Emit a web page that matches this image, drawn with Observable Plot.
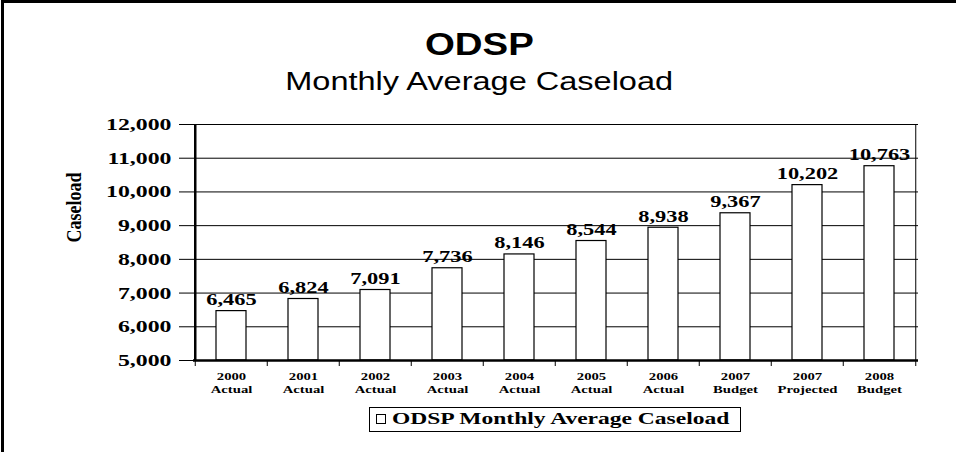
<!DOCTYPE html>
<html>
<head>
<meta charset="utf-8">
<script src="https://cdn.jsdelivr.net/npm/d3@7"></script>
<script src="https://cdn.jsdelivr.net/npm/@observablehq/plot@0.6"></script>
<style>
  html, body { margin: 0; padding: 0; background: #fff; }
  #wrap { position: relative; width: 959px; height: 452px; overflow: hidden; }
  #frame { position: absolute; left: 1px; top: 0; width: 955px; height: 460px;
           border-left: 3px solid #000; border-top: 3px solid #000; box-sizing: border-box; }
  .t1 { position: absolute; left: 0; width: 959px; text-align: center; font-family: Arial, "Liberation Sans", sans-serif; color: #000; }
  #title { top: 26px; font-size: 32px; font-weight: bold; }
  #subtitle { top: 67px; font-size: 25px; }
  #title span { display: inline-block; transform: scaleX(1.2); transform-origin: center; }
  #subtitle span { display: inline-block; transform: scaleX(1.3); transform-origin: center; }
  #chart { position: absolute; left: 0; top: 0; }
  #legend { position: absolute; left: 369px; top: 407px; width: 372px; height: 25px; box-sizing: border-box;
            border: 1.5px solid #000; font-family: "Liberation Serif", "Times New Roman", serif; font-weight: bold;
            font-size: 16px; line-height: 22px; white-space: nowrap; }
  #legend .sq { position: absolute; left: 6px; top: 6px; width: 10px; height: 10px; border: 1px solid #000; box-sizing: border-box; }
  #legend .lt { position: absolute; left: 22px; top: 0; display: inline-block; transform: scaleX(1.47); transform-origin: left center; }
</style>
</head>
<body>
<div id="wrap">
  <div id="frame"></div>
  <div id="title" class="t1"><span>ODSP</span></div>
  <div id="subtitle" class="t1"><span>Monthly Average Caseload</span></div>
  <div id="chart"></div>
  <div id="legend"><div class="sq"></div><span class="lt">ODSP Monthly Average Caseload</span></div>
</div>
<script>
const years = ["2000", "2001", "2002", "2003", "2004", "2005", "2006", "2007", "2007", "2008"];
const kinds = ["Actual", "Actual", "Actual", "Actual", "Actual", "Actual", "Actual", "Budget", "Projected", "Budget"];
const caseload = [6465, 6824, 7091, 7736, 8146, 8544, 8938, 9367, 10202, 10763];
const yTicks = [5000, 6000, 7000, 8000, 9000, 10000, 11000, 12000];

const categories = years.map((y, i) => `${y}\n${kinds[i]}`);
const data = categories.map((c, i) => ({cat: c, value: caseload[i]}));

const W = 959, H = 452;
const mL = 193, mR = 41, mT = 124, mB = 92;
const band = (W - mL - mR) / categories.length;
const fmt = d3.format(",");
const serif = "'Liberation Serif', 'Times New Roman', serif";

const plot = Plot.plot({
  width: W,
  height: H,
  marginLeft: mL,
  marginRight: mR,
  marginTop: mT,
  marginBottom: mB,
  style: {fontFamily: serif, background: "transparent", color: "#000"},
  x: {domain: categories, paddingInner: 0.58, paddingOuter: 0.29, align: 0.5, label: null},
  y: {domain: [5000, 12000], label: null},
  marks: [
    Plot.gridY(yTicks, {stroke: "#000", strokeOpacity: 1, strokeWidth: 1}),
    Plot.ruleX([categories[categories.length - 1]], {dx: band / 2, stroke: "#000", strokeWidth: 1}),
    Plot.barY(data, {x: "cat", y1: 5000, y2: "value", fill: "#fff", stroke: "#000", strokeWidth: 1.2}),
    Plot.text(data, {x: "cat", y: "value", text: d => fmt(d.value), dy: -6, lineAnchor: "bottom",
      fontSize: 16, fontWeight: "bold", fill: "#000"}),
    Plot.axisY(yTicks, {tickSize: 14, tickPadding: 8, tickFormat: d => fmt(d), fontSize: 17, fontWeight: "bold",
      strokeWidth: 1, label: null}),
    Plot.axisX({tickSize: 0, tickPadding: 11, fontSize: 10.5, fontWeight: "bold", lineHeight: 1.2, label: null}),
    Plot.axisX({text: null, tickSize: 6, dx: -band / 2, strokeWidth: 1, label: null}),
    Plot.axisX([categories[categories.length - 1]], {text: null, tickSize: 6, dx: band / 2, strokeWidth: 1, label: null}),
    Plot.ruleX([categories[0]], {dx: -band / 2, stroke: "#000", strokeWidth: 2.5}),
    Plot.ruleY([5000], {stroke: "#000", strokeWidth: 2.5}),
    Plot.text(["Caseload"], {frameAnchor: "left", dx: -119, rotate: -90, fontSize: 18, fontWeight: "bold",
      fill: "#000", text: d => d})
  ]
});

// stretch text horizontally like the reference (which was widened)
d3.select(plot).selectAll("text").each(function () {
  const t = this.getAttribute("transform");
  const isLabel = this.textContent === "Caseload";
  const s = isLabel ? 1.15 : 1.4;
  if (t && /translate\(/.test(t)) {
    this.setAttribute("transform", t.replace(/^(translate\([^)]*\))/, `$1 scale(${s},1)`));
  }
});

document.getElementById("chart").appendChild(plot);
</script>
</body>
</html>
